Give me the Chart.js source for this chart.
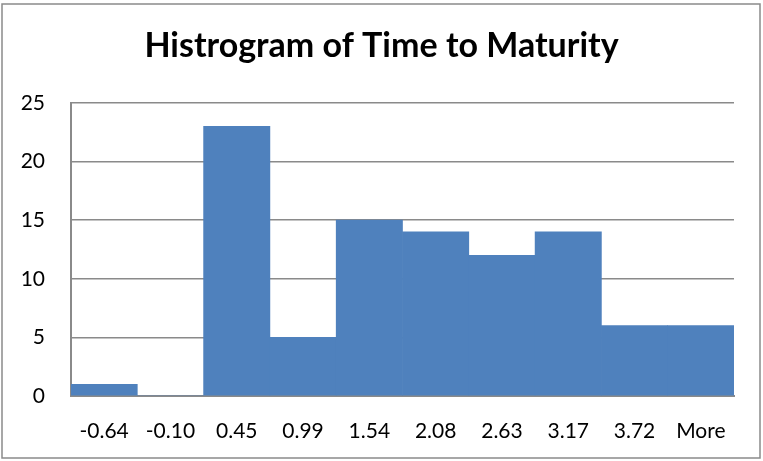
<!DOCTYPE html>
<html>
<head>
<meta charset="utf-8">
<script src="https://cdn.jsdelivr.net/npm/chart.js@4"></script>
<style>
  html, body { margin: 0; padding: 0; background: #fff; }
  #wrap { width: 763px; height: 461px; position: relative; }
</style>
</head>
<body>
<div id="wrap"><canvas id="c" width="763" height="461"></canvas></div>
<script>
const titleText = "Histrogram of Time to Maturity";
const categories = ["-0.64", "-0.10", "0.45", "0.99", "1.54", "2.08", "2.63", "3.17", "3.72", "More"];
const frequency = [1, 0, 23, 5, 15, 14, 12, 14, 6, 6];
const yMin = 0;
const yMax = 25;
const yStep = 5;

const frameBorder = {
  id: 'frameBorder',
  afterDraw(chart) {
    const ctx = chart.ctx;
    ctx.save();
    ctx.strokeStyle = '#8a8a8a';
    ctx.lineWidth = 1.5;
    ctx.strokeRect(2, 4, 758, 454);
    ctx.restore();
  }
};

new Chart(document.getElementById('c'), {
  type: 'bar',
  data: {
    labels: categories,
    datasets: [{
      label: 'Frequency',
      data: frequency,
      backgroundColor: '#4f81bd',
      borderWidth: 0,
      categoryPercentage: 1.0,
      barPercentage: 1.0,
      yAxisID: 'y'
    }]
  },
  options: {
    responsive: false,
    animation: false,
    devicePixelRatio: 1,
    layout: { padding: 0 },
    plugins: {
      legend: { display: false },
      tooltip: { enabled: false },
      title: {
        display: true,
        text: titleText,
        color: '#000',
        font: { family: 'Lato', size: 34, weight: 'bold', lineHeight: 1.2 },
        padding: { top: 25.6, bottom: 36.6 }
      }
    },
    scales: {
      x: {
        grid: { display: false, drawTicks: false },
        border: { display: true, color: '#8a8a8a', width: 2 },
        ticks: {
          color: '#000',
          font: { family: 'Lato', size: 21 },
          padding: 23,
          maxRotation: 0,
          autoSkip: false
        },
        afterFit(scale) { scale.height = 65; }
      },
      y: {
        min: yMin,
        max: yMax,
        grid: { color: '#8a8a8a', lineWidth: 1.5, drawTicks: false },
        border: { display: true, color: '#8a8a8a', width: 2 },
        ticks: {
          stepSize: yStep,
          color: '#000',
          font: { family: 'Lato', size: 21 },
          padding: 26
        },
        afterFit(scale) { scale.width = 71; }
      },
      ySpacer: {
        position: 'right',
        min: yMin,
        max: yMax,
        grid: { display: false, drawTicks: false },
        border: { display: false },
        ticks: { display: false },
        afterFit(scale) { scale.width = 29; }
      }
    }
  },
  plugins: [frameBorder]
});
</script>
</body>
</html>
